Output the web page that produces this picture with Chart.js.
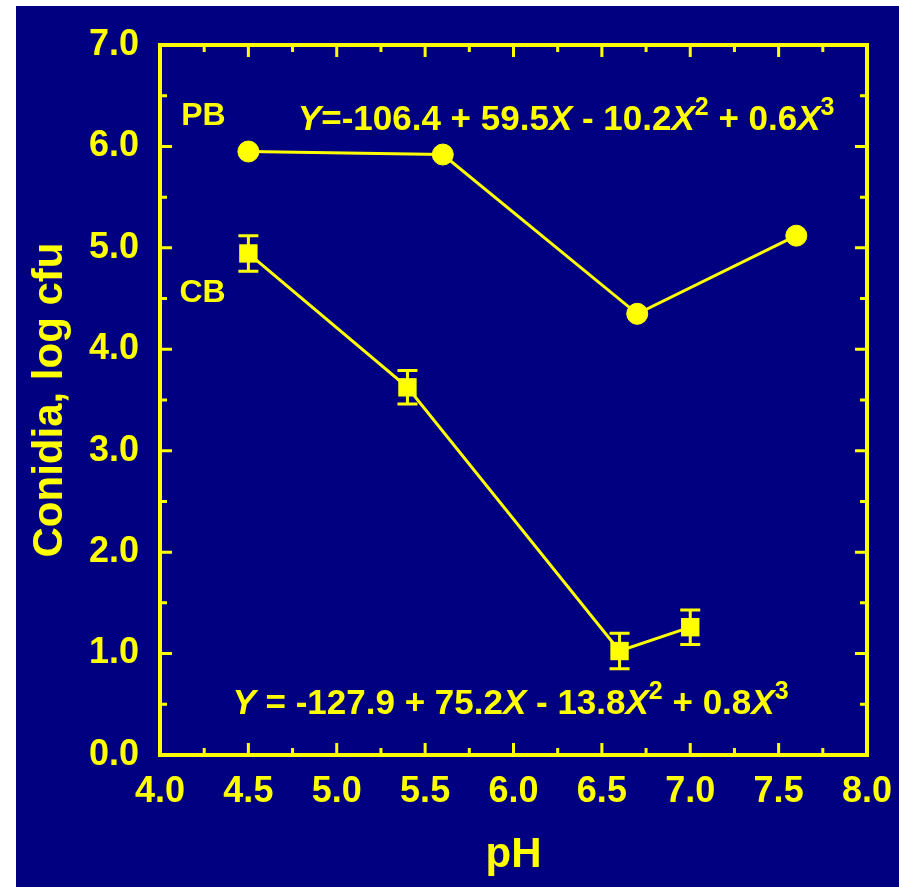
<!DOCTYPE html>
<html>
<head>
<meta charset="utf-8">
<script src="https://cdn.jsdelivr.net/npm/chart.js@4/dist/chart.umd.min.js"></script>
<style>
  html, body { margin:0; padding:0; background:#fff; }
  #wrap { position:absolute; left:16px; top:6px; width:883px; height:881px; background:#000080; }
</style>
</head>
<body>
<div id="wrap"><canvas id="chart"></canvas></div>
<script>
  // ── DATA ──
  const xTickLabels = ['4.0','4.5','5.0','5.5','6.0','6.5','7.0','7.5','8.0'];
  const yTickLabels = ['0.0','1.0','2.0','3.0','4.0','5.0','6.0','7.0'];

  const phPB = [4.5, 5.6, 6.7, 7.6];
  const logPB = [5.95, 5.92, 4.35, 5.12];

  const phCB = [4.5, 5.4, 6.6, 7.0];
  const logCB = [4.945, 3.625, 1.025, 1.26];
  const errCB = [0.175, 0.165, 0.175, 0.17];

  const YEL = '#ffff00';
  const FONT = '"Liberation Sans", Arial, sans-serif';

  // text labels, anchored in data units (left, baseline)
  const seriesLabels = [
    { text:'PB', x:4.12, y:6.21 },
    { text:'CB', x:4.11, y:4.47 }
  ];
  const equations = [
    { x:4.78, y:6.16, parts:[
      {t:'Y', it:true}, {t:'=-106.4 + 59.5'}, {t:'X', it:true}, {t:' - 10.2'}, {t:'X', it:true}, {t:'2', sup:true},
      {t:' + 0.6'}, {t:'X', it:true}, {t:'3', sup:true} ] },
    { x:4.41, y:0.40, parts:[
      {t:'Y', it:true}, {t:' = -127.9 + 75.2'}, {t:'X', it:true}, {t:' - 13.8'}, {t:'X', it:true}, {t:'2', sup:true},
      {t:' + 0.8'}, {t:'X', it:true}, {t:'3', sup:true} ] }
  ];

  function drawRich(ctx, parts, x, y, size) {
    let cx = x;
    parts.forEach(p => {
      const s = p.sup ? Math.round(size * 0.7) : size;
      ctx.font = (p.it ? 'italic ' : '') + 'bold ' + s + 'px ' + FONT;
      ctx.fillText(p.t, cx, p.sup ? y - size * 0.43 : y);
      cx += ctx.measureText(p.t).width;
    });
  }

  // frame + inward ticks on all four sides
  const framePlugin = {
    id: 'frame',
    beforeDatasetsDraw(chart) {
      const { ctx, chartArea: a, scales: { x, y } } = chart;
      ctx.save();
      ctx.strokeStyle = YEL;
      ctx.lineWidth = 4;
      ctx.strokeRect(a.left, a.top, a.right - a.left, a.bottom - a.top);
      ctx.lineWidth = 3;
      const xs = xTickLabels.map(Number), ys = yTickLabels.map(Number);
      const tick = (vals, len, horiz) => vals.forEach(v => {
        ctx.beginPath();
        if (horiz) {
          const px = x.getPixelForValue(v);
          ctx.moveTo(px, a.bottom); ctx.lineTo(px, a.bottom - len);
          ctx.moveTo(px, a.top); ctx.lineTo(px, a.top + len);
        } else {
          const py = y.getPixelForValue(v);
          ctx.moveTo(a.left, py); ctx.lineTo(a.left + len, py);
          ctx.moveTo(a.right, py); ctx.lineTo(a.right - len, py);
        }
        ctx.stroke();
      });
      const mids = arr => arr.slice(1).map((v, i) => (v + arr[i]) / 2);
      tick(xs.slice(1, -1), 12, true);
      tick(mids(xs), 7, true);
      tick(ys.slice(1, -1), 12, false);
      tick(mids(ys), 7, false);

      // error bars for CB (behind the squares)
      ctx.lineWidth = 3;
      phCB.forEach((ph, i) => {
        const px = x.getPixelForValue(ph);
        const t = y.getPixelForValue(logCB[i] + errCB[i]);
        const b = y.getPixelForValue(logCB[i] - errCB[i]);
        ctx.beginPath();
        ctx.moveTo(px, t); ctx.lineTo(px, b);
        ctx.moveTo(px - 10, t); ctx.lineTo(px + 10, t);
        ctx.moveTo(px - 10, b); ctx.lineTo(px + 10, b);
        ctx.stroke();
      });
      ctx.restore();
    },
    afterDraw(chart) {
      const { ctx, scales: { x, y } } = chart;
      ctx.save();
      ctx.fillStyle = YEL;
      ctx.textBaseline = 'alphabetic';
      ctx.textAlign = 'left';
      ctx.font = 'bold 32px ' + FONT;
      seriesLabels.forEach(l => ctx.fillText(l.text, x.getPixelForValue(l.x), y.getPixelForValue(l.y)));
      equations.forEach(e => drawRich(ctx, e.parts, x.getPixelForValue(e.x), y.getPixelForValue(e.y), 35));
      ctx.restore();
    }
  };

  const tickFont = { family: FONT, size: 36, weight: 'bold' };

  new Chart(document.getElementById('chart').getContext('2d'), {
    type: 'line',
    data: {
      datasets: [
        { label:'PB', data: phPB.map((v, i) => ({ x:v, y:logPB[i] })), borderColor:YEL, backgroundColor:YEL,
          borderWidth:3, pointStyle:'circle', pointRadius:10.5, pointBorderWidth:1, tension:0 },
        { label:'CB', data: phCB.map((v, i) => ({ x:v, y:logCB[i] })), borderColor:YEL, backgroundColor:YEL,
          borderWidth:3, pointStyle:'rect', pointRadius:13, pointBorderWidth:0, tension:0 }
      ]
    },
    options: {
      responsive:true, maintainAspectRatio:false, animation:false,
      layout: { padding: { left:0, top:39, right:32, bottom:0 } },
      plugins: { legend:{ display:false }, tooltip:{ enabled:false } },
      scales: {
        x: {
          type:'linear', min:4, max:8,
          grid:{ display:false, drawTicks:false }, border:{ display:false },
          afterBuildTicks: s => { s.ticks = xTickLabels.map(t => ({ value: Number(t) })); },
          afterFit: s => { s.height = 132; s.paddingLeft = 0; s.paddingRight = 0; },
          ticks:{ color:YEL, font:tickFont, padding:15, maxRotation:0, autoSkip:false, callback: v => v.toFixed(1) },
          title:{ display:true, text:'pH', color:YEL, font:{ family:FONT, size:42, weight:'bold' }, padding:{ top:0, bottom:6 } }
        },
        y: {
          type:'linear', min:0, max:7,
          grid:{ display:false, drawTicks:false }, border:{ display:false },
          afterBuildTicks: s => { s.ticks = yTickLabels.map(t => ({ value: Number(t) })); },
          afterFit: s => { s.width = 144; s.paddingTop = 0; s.paddingBottom = 0; },
          ticks:{ color:YEL, font:tickFont, padding:21, autoSkip:false, callback: v => v.toFixed(1) },
          title:{ display:true, text:'Conidia, log cfu', color:YEL, font:{ family:FONT, size:42, weight:'bold' }, padding:{ top:9, bottom:0 } }
        }
      }
    },
    plugins: [framePlugin]
  });
</script>
</body>
</html>
